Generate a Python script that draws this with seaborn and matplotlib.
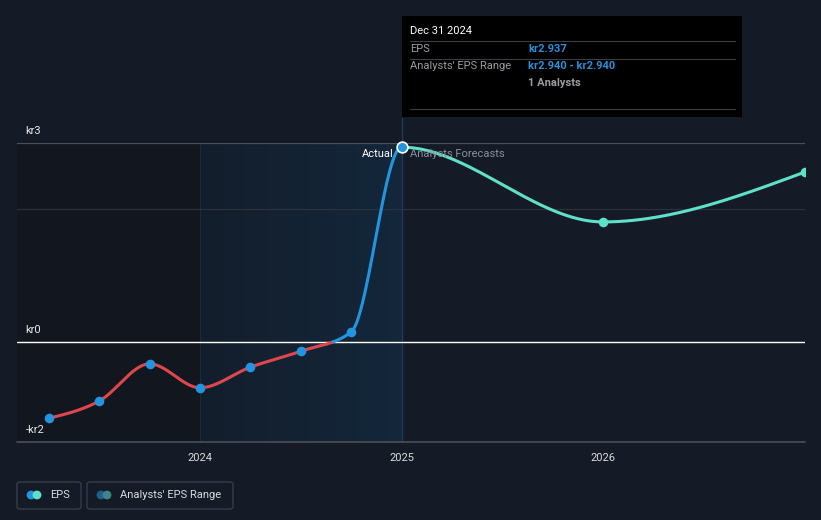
import numpy as np
import pandas as pd
import matplotlib
matplotlib.use("Agg")
import matplotlib.pyplot as plt
from matplotlib.patches import Rectangle, FancyBboxPatch
import seaborn as sns

# data
actual_x = [2023.25, 2023.5, 2023.75, 2024.0, 2024.25, 2024.5, 2024.75, 2025.0]
actual_eps = [-1.15, -0.89, -0.33, -0.69, -0.38, -0.14, 0.15, 2.937]
forecast_x = [2025.0, 2026.0, 2027.0]
forecast_eps = [2.94, 1.81, 2.56]
year_ticks = [2024, 2025, 2026]
y_ticks = [3, 0, -1.5]
y_tick_labels = ["kr3", "kr0", "-kr2"]

BG = "#151b26"
RED = "#e0474c"
BLUE = "#2394df"
TEAL = "#5ee0c9"
W, H = 821, 520


def monotone(x, y, n=80):
    # d3 style monotone-x curve through the points
    x = np.asarray(x, float)
    y = np.asarray(y, float)
    h = np.diff(x)
    s = np.diff(y) / h
    t = np.zeros(len(x))
    for i in range(1, len(x) - 1):
        p = (s[i - 1] * h[i] + s[i] * h[i - 1]) / (h[i - 1] + h[i])
        t[i] = (np.sign(s[i - 1]) + np.sign(s[i])) * min(abs(s[i - 1]), abs(s[i]), 0.5 * abs(p))
    t[0] = (3 * s[0] - t[1]) / 2
    t[-1] = (3 * s[-1] - t[-2]) / 2
    xs, ys = [], []
    for i in range(len(x) - 1):
        u = np.linspace(0, 1, n)
        h00 = 2 * u**3 - 3 * u**2 + 1
        h10 = u**3 - 2 * u**2 + u
        h01 = -2 * u**3 + 3 * u**2
        h11 = u**3 - u**2
        xs.append(x[i] + u * h[i])
        ys.append(h00 * y[i] + h10 * h[i] * t[i] + h01 * y[i + 1] + h11 * h[i] * t[i + 1])
    return np.concatenate(xs), np.concatenate(ys)


def px(x, y):
    return x / W, 1 - y / H


sns.set_style("dark")
plt.rcParams["font.family"] = ["Roboto", "DejaVu Sans"]

fig = plt.figure(figsize=(8.21, 5.20), dpi=100, facecolor=BG)
ax = fig.add_axes([17 / W, 0.15, (805 - 17) / W, (442 - 143) / H])
ax.set_facecolor(BG)
x0 = 2024 - 183 / 201.5
x1 = x0 + 788 / 201.5
ax.set_xlim(x0, x1)
ax.set_ylim(-1.508, 3.0)

# shaded regions
ax.axvspan(x0, 2024.0, color="#12161e", zorder=0, lw=0)
grad = np.linspace(0, 1, 256).reshape(1, -1)
cmap = matplotlib.colors.LinearSegmentedColormap.from_list("g", ["#141e2c", "#13273b"])
ax.imshow(grad, extent=[2024.0, 2025.0, -1.508, 3.0], aspect="auto", cmap=cmap, zorder=0.5)
ax.axvline(2024.0, color="#182c40", lw=0.8, zorder=1)
ax.plot([2025.0, 2025.0], [-1.508, 3.38], color="#1d3d5c", lw=0.9, zorder=1, clip_on=False)

# gridlines
ax.axhline(3, color="#4a4f58", lw=0.9, zorder=1)
ax.axhline(2, color="#2b313b", lw=0.9, zorder=1)
ax.axhline(0, color="#ffffff", lw=1.0, zorder=2)
ax.axhline(-1.508, color="#4a4f58", lw=1.2, zorder=1, clip_on=False)

for s in ax.spines.values():
    s.set_visible(False)
ax.set_yticks([])
ax.set_xticks(year_ticks)
ax.set_xticklabels([str(v) for v in year_ticks], color="#d8dadd", fontsize=8)
ax.tick_params(axis="x", length=4, color="#4a4f58", pad=4)
ax.grid(False)

for v, lab in zip(y_ticks, y_tick_labels):
    ax.annotate(lab, xy=(0, v), xycoords=("axes fraction", "data"), xytext=(6, 5),
                textcoords="offset points", color="#e8e9eb", fontsize=8, va="bottom")

# one smooth curve through actual + forecast, coloured by part
all_x = actual_x + forecast_x[1:]
all_y = actual_eps + forecast_eps[1:]
cx, cy = monotone(all_x, all_y)
past = cx <= 2025.0
ax_, ay_ = cx[past], cy[past]
k = int(np.argmax(ay_ > 0))
neg = pd.DataFrame({"x": ax_[:k + 1], "y": ay_[:k + 1]})
pos = pd.DataFrame({"x": ax_[k:], "y": ay_[k:]})
fut = pd.DataFrame({"x": cx[cx >= 2025.0], "y": cy[cx >= 2025.0]})
sns.lineplot(data=neg, x="x", y="y", color=RED, lw=2.2, sort=False, ax=ax, zorder=3)
sns.lineplot(data=pos, x="x", y="y", color=BLUE, lw=2.2, sort=False, ax=ax, zorder=3)
sns.lineplot(data=fut, x="x", y="y", color=TEAL, lw=2.2, sort=False, ax=ax, zorder=3)

pts = pd.DataFrame({"x": actual_x[:-1], "y": actual_eps[:-1]})
sns.scatterplot(data=pts, x="x", y="y", color=BLUE, s=48, linewidth=0, ax=ax, zorder=4)
fp = pd.DataFrame({"x": forecast_x[1:], "y": forecast_eps[1:]})
sns.scatterplot(data=fp, x="x", y="y", color=TEAL, s=48, linewidth=0, ax=ax, zorder=4)
ax.scatter([actual_x[-1]], [actual_eps[-1]], s=60, color=BLUE, edgecolor="white",
           linewidth=1.2, zorder=5, clip_on=False)
ax.set_xlabel("")
ax.set_ylabel("")

fig.text(*px(394, 154), "Actual", color="#ffffff", fontsize=8, ha="right", va="center")
fig.text(*px(410, 154), "Analysts Forecasts", color="#8a8f98", fontsize=8, ha="left", va="center")

# tooltip
fig.patches.append(Rectangle(px(402, 117), 340 / W, 101 / H, transform=fig.transFigure,
                             facecolor="#000000", edgecolor="none", zorder=10))
for yy in (41, 59, 109):
    fig.add_artist(plt.Line2D([410 / W, 735 / W], [1 - yy / H] * 2, color="#3a3d42",
                              lw=0.8, transform=fig.transFigure, zorder=11))
fig.text(*px(410, 31), "Dec 31 2024", color="#ffffff", fontsize=8, va="center", zorder=12)
fig.text(*px(410, 49), "EPS", color="#9a9ca0", fontsize=8, va="center", zorder=12)
fig.text(*px(528, 49), "kr2.937", color="#2a8fd8", fontsize=8, va="center",
         fontweight="bold", zorder=12)
fig.text(*px(410, 66), "Analysts' EPS Range", color="#9a9ca0", fontsize=8, va="center", zorder=12)
fig.text(*px(528, 66), "kr2.940 - kr2.940", color="#2a8fd8", fontsize=8, va="center",
         fontweight="bold", zorder=12)
fig.text(*px(528, 83), "1 Analysts", color="#9a9ca0", fontsize=8, va="center",
         fontweight="bold", zorder=12)

# legend
for bx, bw in ((17, 64), (87, 146)):
    fig.patches.append(FancyBboxPatch(px(bx, 509), bw / W, 27 / H, transform=fig.transFigure,
                                      boxstyle="round,pad=0,rounding_size=0.004",
                                      facecolor="none", edgecolor="#3b414b", lw=0.9))
leg = fig.add_axes([0, 0, 1, 1], facecolor="none")
leg.set_xlim(0, W)
leg.set_ylim(H, 0)
leg.axis("off")
leg.scatter([31, 37], [495, 495], s=40, c=[BLUE, TEAL], linewidths=0)
leg.scatter([101, 107], [495, 495], s=40, c=["#1f5f8f", "#3f8585"], linewidths=0)
leg.text(50, 495, "EPS", color="#d8dadd", fontsize=8, va="center")
leg.text(120, 495, "Analysts' EPS Range", color="#d8dadd", fontsize=8, va="center")

fig.savefig("out.png", dpi=100, facecolor=BG)
